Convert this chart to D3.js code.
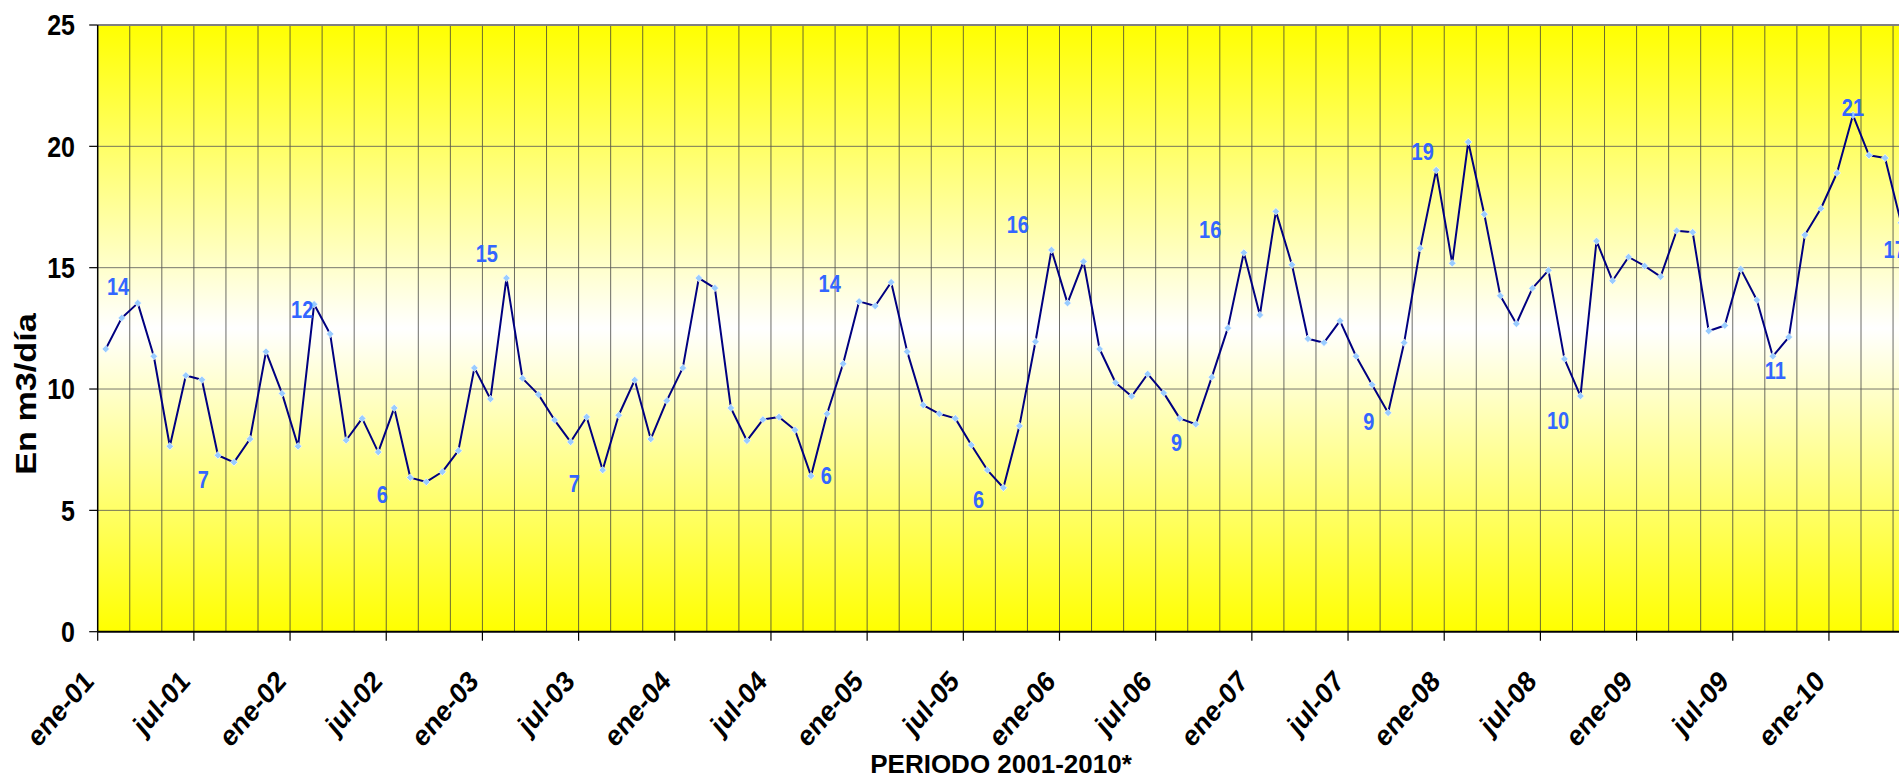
<!DOCTYPE html>
<html>
<head>
<meta charset="utf-8">
<script src="https://cdn.jsdelivr.net/npm/d3@7"></script>
<style>
html,body{margin:0;padding:0;overflow:hidden;background:#fff;}
text{font-family:"Liberation Sans",Arial,sans-serif;font-weight:bold;}
</style>
</head>
<body>
<svg id="chart" width="1899" height="778"></svg>
<script>
// ---- data ----
const monthNames = ["ene","feb","mar","abr","may","jun","jul","ago","sep","oct","nov","dic"];
const years = ["01","02","03","04","05","06","07","08","09","10"];
const values = [
 11.65,12.93,13.54,11.35,7.64,10.56,10.38,7.27,6.98,7.94,11.54,9.82,
 7.64,13.49,12.27,7.89,8.79,7.40,9.22,6.35,6.17,6.59,7.46,10.87,
 9.59,14.57,10.44,9.77,8.72,7.82,8.85,6.66,8.92,10.37,7.94,9.52,
 10.87,14.57,14.16,9.22,7.87,8.74,8.85,8.31,6.42,8.98,11.04,13.61,
 13.42,14.40,11.54,9.34,8.98,8.79,7.69,6.66,5.93,8.48,11.95,15.73,
 13.54,15.25,11.65,10.26,9.70,10.62,9.84,8.79,8.55,10.49,12.51,15.62,
 13.05,17.32,15.12,12.07,11.91,12.81,11.35,10.18,9.02,11.91,15.80,19.02,
 15.18,20.18,17.20,13.84,12.69,14.15,14.89,11.24,9.71,16.10,14.46,15.44,
 15.07,14.63,16.52,16.46,12.39,12.62,14.94,13.67,11.35,12.14,16.35,17.44,
 18.90,21.29,19.63,19.52,16.85
];
const categories = values.map((v,i)=> monthNames[i%12] + "-" + years[Math.floor(i/12)]);
const tickLabels = categories.filter((c,i)=> i%6===0);
const yTicks = [0,5,10,15,20,25];
// annotation labels: text, position in month units, value units
const labelTexts  = ["14","7","12","6","15","7","14","6","6","16","9","16","9","19","10","11","21","17"];
const labelMonths = [0.77,6.09,12.26,17.25,23.77,29.23,45.16,44.95,54.45,56.9,66.8,68.9,78.8,82.16,90.6,104.15,109.0,111.6];
const labelValues = [14.2,6.28,13.25,5.66,15.59,6.11,14.33,6.42,5.43,16.76,7.80,16.58,8.65,19.78,8.69,10.75,21.6,15.75];

// ---- layout ----
const svg = d3.select("#chart");
const pL = 97.7, pT = 25, pB = 631.7, monthW = 16.03;
const x = d3.scaleBand().domain(categories).range([pL, pL + categories.length*monthW]).padding(0);
const xm = d3.scaleLinear().domain([0, categories.length]).range(x.range());
const y = d3.scaleLinear().domain([0,25]).range([pB, pT]);
const pR = x.range()[1];
const SY = 1.15;

// gradient background
const defs = svg.append("defs");
const grad = defs.append("linearGradient").attr("id","bg").attr("x1",0).attr("y1",0).attr("x2",0).attr("y2",1);
grad.append("stop").attr("offset","0%").attr("stop-color","#FFFF00");
grad.append("stop").attr("offset","50%").attr("stop-color","#FFFFFF");
grad.append("stop").attr("offset","100%").attr("stop-color","#FFFF00");
defs.append("clipPath").attr("id","clip").append("rect")
  .attr("x",pL).attr("y",pT-10).attr("width",1899-pL).attr("height",pB-pT+20);

svg.append("rect").attr("x",pL).attr("y",pT).attr("width",pR-pL).attr("height",pB-pT)
  .attr("fill","url(#bg)");

// vertical grid every 2 months
const vg = svg.append("g");
categories.forEach((c,i)=>{
  if(i%2===0 && i>0){
    vg.append("line").attr("x1",x(c)).attr("x2",x(c)).attr("y1",pT).attr("y2",pB)
      .attr("stroke","#3a3a3a").attr("stroke-width",1).attr("stroke-opacity",0.75);
  }
});
// horizontal grid
yTicks.filter(t=>t>0 && t<25).forEach(t=>{
  svg.append("line").attr("x1",pL).attr("x2",pR).attr("y1",y(t)).attr("y2",y(t))
    .attr("stroke","#555").attr("stroke-width",1).attr("stroke-opacity",0.8);
});
// top border
svg.append("line").attr("x1",pL).attr("x2",pR).attr("y1",y(25)).attr("y2",y(25))
  .attr("stroke","#808080").attr("stroke-width",2);

// y axis
svg.append("line").attr("x1",pL).attr("x2",pL).attr("y1",pT).attr("y2",pB)
  .attr("stroke","#000").attr("stroke-width",1.5);
yTicks.forEach(t=>{
  svg.append("line").attr("x1",pL-8.5).attr("x2",pL).attr("y1",y(t)).attr("y2",y(t))
    .attr("stroke","#000").attr("stroke-width",1.2);
  svg.append("text").attr("transform",`translate(75,${y(t)}) scale(1,${SY})`)
    .attr("text-anchor","end").attr("dy","0.36em").attr("font-size",25).attr("fill","#000").text(t);
});
// x axis
svg.append("line").attr("x1",pL).attr("x2",pR).attr("y1",pB).attr("y2",pB)
  .attr("stroke","#000").attr("stroke-width",2);
tickLabels.forEach(c=>{
  const tx = x(c);
  svg.append("line").attr("x1",tx).attr("x2",tx).attr("y1",pB).attr("y2",pB+9)
    .attr("stroke","#000").attr("stroke-width",1.2);
  svg.append("text").attr("transform",`translate(${tx-9},${pB+44}) scale(1,${SY}) rotate(-45)`)
    .attr("text-anchor","end").attr("dy","0.35em").attr("font-size",25.5).attr("fill","#000").text(c);
});

// line + markers
const plot = svg.append("g").attr("clip-path","url(#clip)");
const line = d3.line().x((d,i)=> x(categories[i]) + x.bandwidth()/2).y(d=>y(d));
plot.append("path").datum(values).attr("d",line).attr("fill","none")
  .attr("stroke","#000080").attr("stroke-width",2).attr("stroke-linejoin","round");
const sym = d3.symbol().type(d3.symbolSquare).size(28);
plot.selectAll(".mk").data(values).enter().append("path")
  .attr("transform",(d,i)=>`translate(${x(categories[i]) + x.bandwidth()/2},${y(d)}) rotate(45)`)
  .attr("d",sym).attr("fill","#99CCFF").attr("stroke","#ffffff").attr("stroke-width",0.6);

// annotation labels
labelTexts.forEach((t,i)=>{
  svg.append("text")
    .attr("transform",`translate(${xm(labelMonths[i]+0.5)},${y(labelValues[i])}) scale(1,${SY})`)
    .attr("text-anchor","middle").attr("dy","0.36em").attr("font-size",20).attr("fill","#3366FF").text(t);
});

// axis titles
svg.append("text").attr("transform","translate(36,394) scale(1,1.18) rotate(-90)")
  .attr("text-anchor","middle").attr("font-size",29).attr("fill","#000").text("En m3/día");
svg.append("text").attr("x",1001).attr("y",773).attr("text-anchor","middle")
  .attr("font-size",26).attr("fill","#000").text("PERIODO 2001-2010*");
</script>
</body>
</html>
